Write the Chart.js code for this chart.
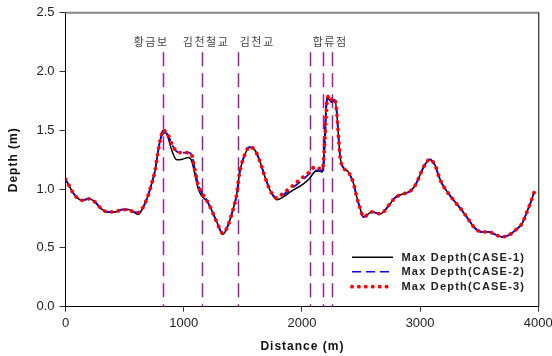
<!DOCTYPE html>
<html>
<head>
<meta charset="utf-8">
<script src="https://cdn.jsdelivr.net/npm/chart.js@4.4.1/dist/chart.umd.min.js"></script>
<style>
html,body{margin:0;padding:0;background:#fff;}
#wrap{width:552px;height:356px;}
</style>
</head>
<body>
<div id="wrap"><canvas id="c" width="552" height="356"></canvas></div>
<script>
const distances = [0,30,60,95,137,200,250,306,362,420,476,532,574,616,659,693,730,758,780,800,828,845,870,899,941,990,1040,1068,1096,1124,1153,1195,1237,1280,1331,1364,1407,1449,1471,1505,1556,1604,1647,1689,1731,1788,1844,1900,1957,2008,2064,2112,2150,2174,2184,2197,2211,2231,2253,2270,2282,2296,2310,2324,2346,2394,2437,2465,2493,2521,2563,2592,2663,2747,2789,2846,2902,2950,2987,3016,3049,3080,3128,3156,3185,3241,3297,3354,3410,3467,3523,3579,3636,3692,3749,3805,3862,3904,3932,3966];

const case3 = [1.085,1.03,0.975,0.93,0.905,0.918,0.89,0.83,0.806,0.806,0.826,0.826,0.806,0.80,0.85,0.93,1.05,1.16,1.30,1.41,1.505,1.49,1.456,1.386,1.32,1.31,1.31,1.29,1.16,1.03,0.97,0.905,0.82,0.72,0.625,0.665,0.79,0.96,1.13,1.26,1.357,1.33,1.23,1.10,0.99,0.925,0.967,1.01,1.06,1.10,1.145,1.19,1.175,1.17,1.25,1.47,1.72,1.80,1.76,1.77,1.755,1.64,1.44,1.27,1.19,1.145,1.047,0.93,0.835,0.763,0.79,0.806,0.79,0.877,0.928,0.956,0.975,1.018,1.09,1.16,1.22,1.253,1.20,1.117,1.047,0.962,0.89,0.82,0.741,0.665,0.636,0.636,0.614,0.594,0.608,0.65,0.707,0.806,0.877,0.975];

const case2 = [1.085,1.03,0.975,0.93,0.905,0.918,0.89,0.83,0.806,0.806,0.826,0.826,0.806,0.80,0.85,0.93,1.05,1.16,1.30,1.41,1.505,1.49,1.456,1.386,1.32,1.31,1.31,1.29,1.16,1.03,0.97,0.905,0.82,0.72,0.625,0.665,0.79,0.96,1.13,1.26,1.357,1.33,1.23,1.10,0.99,0.925,0.955,0.995,1.04,1.08,1.13,1.16,1.16,1.16,1.20,1.45,1.75,1.78,1.74,1.76,1.755,1.64,1.44,1.27,1.19,1.145,1.047,0.93,0.835,0.763,0.79,0.806,0.79,0.877,0.928,0.956,0.975,1.018,1.09,1.16,1.22,1.253,1.20,1.117,1.047,0.962,0.89,0.82,0.741,0.665,0.636,0.636,0.614,0.594,0.608,0.65,0.707,0.806,0.877,0.975];

const case1 = [1.085,1.03,0.975,0.93,0.905,0.918,0.89,0.83,0.806,0.806,0.826,0.826,0.806,0.785,0.85,0.93,1.05,1.16,1.30,1.41,1.475,1.48,1.43,1.33,1.25,1.255,1.27,1.24,1.12,1.0,0.94,0.9,0.82,0.72,0.615,0.665,0.79,0.96,1.13,1.26,1.357,1.33,1.23,1.10,0.99,0.91,0.935,0.975,1.01,1.04,1.09,1.15,1.155,1.145,1.25,1.55,1.78,1.76,1.74,1.75,1.75,1.64,1.44,1.27,1.19,1.145,1.047,0.93,0.835,0.763,0.79,0.806,0.79,0.877,0.928,0.956,0.975,1.018,1.09,1.16,1.22,1.253,1.20,1.117,1.047,0.962,0.89,0.82,0.741,0.665,0.636,0.636,0.614,0.594,0.608,0.65,0.707,0.806,0.877,0.975];

const seriesNames = ["Max Depth(CASE-1)","Max Depth(CASE-2)","Max Depth(CASE-3)"];
const xTicks = [0,1000,2000,3000,4000];
const yTicks = [0,0.5,1.0,1.5,2.0,2.5];
const markerLines = [828,1153,1463,2072,2177,2253];
const markerTop = 2.165;
const siteLabels = ["황금보","김천철교","김천교","합류점"];
const siteLabelX = [724,1189,1621,2239];
const siteLabelY = 2.25;

const pts = arr => distances.map((d,i)=>({x:d,y:arr[i]}));

const FONT = "Arial, 'Liberation Sans', sans-serif";

const overlay = {
  id:'overlay',
  beforeDatasetsDraw(chart){
    const {ctx, chartArea:a, scales:{x,y}} = chart;
    ctx.save();
    ctx.strokeStyle = '#9b1f9b';
    ctx.lineWidth = 1.5;
    ctx.setLineDash([14,7]);
    markerLines.forEach(d=>{
      const px = Math.round(x.getPixelForValue(d))+0.5;
      ctx.beginPath();
      ctx.moveTo(px, y.getPixelForValue(markerTop));
      ctx.lineTo(px, y.getPixelForValue(0));
      ctx.stroke();
    });
    ctx.setLineDash([]);
    ctx.fillStyle = '#444';
    ctx.font = "11px 'Noto Sans CJK KR'";
    ctx.letterSpacing = '1.5px';
    ctx.textAlign = 'center';
    ctx.textBaseline = 'middle';
    siteLabels.forEach((t,i)=>{
      ctx.fillText(t, x.getPixelForValue(siteLabelX[i]), y.getPixelForValue(siteLabelY));
    });
    ctx.restore();
  },
  afterDraw(chart){
    const {ctx, chartArea:a} = chart;
    ctx.save();
    ctx.strokeStyle = '#888';
    ctx.lineWidth = 2;
    ctx.beginPath(); ctx.moveTo(a.left, a.top); ctx.lineTo(a.right+1, a.top); ctx.stroke();
    ctx.strokeStyle = '#000';
    ctx.lineWidth = 1;
    ctx.beginPath(); ctx.moveTo(a.right+0.5, a.top); ctx.lineTo(a.right+0.5, a.bottom); ctx.stroke();
    const rows = [257.3, 271.7, 286.7];
    const styles = [
      {c:'#000', w:1.5, dash:[], cap:'butt'},
      {c:'#0000ff', w:1.5, dash:[9,5], cap:'butt'},
      {c:'#ff0000', w:3.8, dash:[0.1,6.8], cap:'round'}
    ];
    rows.forEach((ry,i)=>{
      const s = styles[i];
      ctx.strokeStyle = s.c; ctx.lineWidth = s.w; ctx.setLineDash(s.dash); ctx.lineCap = s.cap;
      ctx.beginPath(); ctx.moveTo(352, ry); ctx.lineTo(393, ry); ctx.stroke();
      ctx.setLineDash([]); ctx.lineCap='butt';
      ctx.fillStyle = '#222';
      ctx.font = "bold 11px " + FONT;
      ctx.letterSpacing = '1.2px';
      ctx.textAlign = 'left'; ctx.textBaseline = 'middle';
      ctx.fillText(seriesNames[i], 401.5, ry+0.5);
    });
    ctx.font = "bold 12px " + FONT;
    ctx.letterSpacing = '1px';
    ctx.fillStyle = '#111';
    ctx.textAlign = 'center'; ctx.textBaseline = 'middle';
    ctx.fillText('Distance (m)', (a.left+a.right)/2+0.5, 346.5);
    ctx.translate(14, (a.top+a.bottom)/2);
    ctx.rotate(-Math.PI/2);
    ctx.fillText('Depth (m)', 0, 0);
    ctx.restore();
  }
};

new Chart(document.getElementById('c'), {
  type:'line',
  data:{
    datasets:[
      {label:seriesNames[0], data:pts(case1), borderColor:'#000', borderWidth:1.5, order:3},
      {label:seriesNames[1], data:pts(case2), borderColor:'#0000ff', borderWidth:1.8, borderDash:[9,5], order:2},
      {label:seriesNames[2], data:pts(case3), borderColor:'#ff0000', borderWidth:3.8, borderDash:[0.1,6.8], borderCapStyle:'round', order:1}
    ]
  },
  options:{
    responsive:false,
    animation:false,
    events:[],
    layout:{padding:{top:12,right:0,left:0,bottom:0}},
    elements:{point:{radius:0}, line:{cubicInterpolationMode:'monotone', fill:false}},
    plugins:{legend:{display:false}, tooltip:{enabled:false}},
    scales:{
      x:{
        type:'linear', min:0, max:4000,
        afterBuildTicks: s => { s.ticks = xTicks.map(v=>({value:v})); },
        ticks:{color:'#222', font:{family:FONT, size:13}, padding:4, maxRotation:0, callback:v=>String(v)},
        grid:{display:true, drawOnChartArea:false, drawTicks:true, tickLength:5, color:'#333'},
        border:{display:true, color:'#000', width:1},
        afterFit: s => { s.height = 49.3; s.paddingRight = 13.7; }
      },
      y:{
        type:'linear', min:0, max:2.5,
        afterBuildTicks: s => { s.ticks = yTicks.map(v=>({value:v})); },
        ticks:{color:'#222', font:{family:FONT, size:13}, padding:5, callback:v=>Number(v).toFixed(1)},
        grid:{display:true, drawOnChartArea:false, drawTicks:true, tickLength:6, color:'#333'},
        border:{display:true, color:'#000', width:1},
        afterFit: s => { s.width = 65.5; }
      }
    }
  },
  plugins:[overlay]
});
</script>
</body>
</html>
